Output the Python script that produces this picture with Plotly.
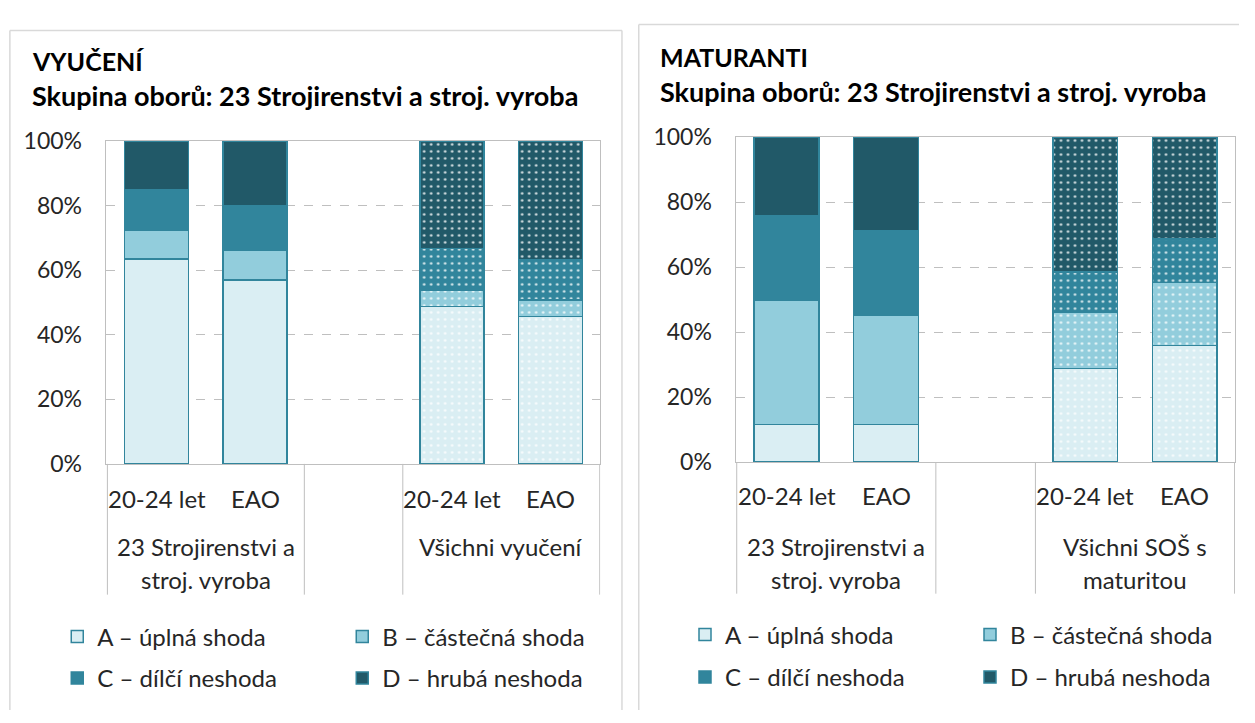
import plotly.graph_objects as go

# ---------------- data ----------------
series_names = ["A – úplná shoda", "B – částečná shoda", "C – dílčí neshoda", "D – hrubá neshoda"]
series_colors = ["#DAEEF3", "#92CDDC", "#31859C", "#215968"]

sub_labels = ["20-24 let", "EAO", "", "20-24 let", "EAO"]
group_ids = ["g1", "g1", "gap", "g2", "g2"]
group_lines_left = {"g1": ["23 Strojirenstvi a", "stroj. vyroba"], "gap": [],
                    "g2": ["Všichni vyučení"]}
group_lines_right = {"g1": ["23 Strojirenstvi a", "stroj. vyroba"], "gap": [],
                     "g2": ["Všichni SOŠ s", "maturitou"]}
patterns = ["", "", "", ".", "."]

# left chart (VYUČENÍ), values in %
left_A = [63.4, 56.9, None, 48.7, 45.7]
left_B = [8.9, 9.4, None, 5.1, 5.1]
left_C = [12.5, 13.7, None, 12.9, 12.4]
left_D = [15.2, 20.0, None, 33.3, 36.8]

# right chart (MATURANTI), values in %
right_A = [11.6, 11.6, None, 28.7, 35.8]
right_B = [38.3, 33.6, None, 17.5, 19.5]
right_C = [25.9, 25.9, None, 12.3, 13.3]
right_D = [24.2, 28.9, None, 41.5, 31.4]

left_vals = [left_A, left_B, left_C, left_D]
right_vals = [right_A, right_B, right_C, right_D]

titles_left = ["VYUČENÍ", "Skupina oborů: 23 Strojirenstvi a stroj. vyroba"]
titles_right = ["MATURANTI", "Skupina oborů: 23 Strojirenstvi a stroj. vyroba"]

# category keys (unique per slot)
cat_keys = [g + "|" + s for g, s in zip(group_ids, sub_labels)]

# ---------------- layout helpers ----------------
W, H = 1255, 723
FONT = "Lato"
TXT = "#262626"
LAB = 23
CAT = 24
TITLE_SIZES = [25, 27]


def px(x):
    return min(max(x / W, 0.0), 1.0)


def py(y):
    return min(max((H - y) / H, 0.0), 1.0)


fig = go.Figure()

panels = [
    dict(vals=left_vals, groups=group_lines_left, xa="x", ya="y", titles=titles_left,
         xdom=(107, 608), ydom=(467, 131), title_x=30, title_y=(48, 84),
         sub_y=503, grp_y=(553, 587), div_bottom=603, leg_x=58, leg_y=(647, 690),
         frame=(10, 630, 16)),
    dict(vals=right_vals, groups=group_lines_right, xa="x2", ya="y2", titles=titles_right,
         xdom=(745, 1251), ydom=(465, 127), title_x=667, title_y=(44, 80),
         sub_y=500, grp_y=(553, 587), div_bottom=602, leg_x=694, leg_y=(645, 689),
         frame=(647, None, 10)),
]

for p_i, P in enumerate(panels):
    for i, (name, col, v) in enumerate(zip(series_names, series_colors, P["vals"])):
        legend_id = ["legend", "legend2", "legend3", "legend4"][p_i * 2 + (i // 2)]
        fig.add_trace(go.Bar(
            x=cat_keys, y=v, name=name,
            xaxis=P["xa"], yaxis=P["ya"],
            legend=legend_id,
            marker=dict(color=col, line=dict(color="#31859C", width=1.5),
                        pattern=dict(shape=patterns, fgcolor="#FFFFFF", fgopacity=0.85,
                                     size=7, solidity=0.1)),
            hovertemplate="%{y:.1f}%<extra>" + name + "</extra>",
        ))

    ax_sfx = "" if p_i == 0 else "2"
    fig.update_layout(**{
        "xaxis" + ax_sfx: dict(domain=[px(P["xdom"][0]), px(P["xdom"][1])], anchor="y" + ax_sfx,
                               type="category", categoryorder="array", categoryarray=cat_keys,
                               showticklabels=False, showline=True, linecolor="#BFBFBF",
                               linewidth=1, mirror=True, ticks="", showgrid=False,
                               fixedrange=True),
        "yaxis" + ax_sfx: dict(domain=[py(P["ydom"][0]), py(P["ydom"][1])], anchor="x" + ax_sfx,
                               range=[0, 100], dtick=20, ticksuffix="%", showgrid=True,
                               gridcolor="#BFBFBF", griddash="dash", gridwidth=1,
                               showline=True, linecolor="#BFBFBF", linewidth=1, mirror=True,
                               tickfont=dict(family=FONT, size=LAB, color=TXT),
                               ticks="", ticklabelstandoff=18, zeroline=False,
                               fixedrange=True),
    })

    xref = "x" + ax_sfx
    # sub-category labels
    for key, lab in zip(cat_keys, sub_labels):
        if lab:
            fig.add_annotation(text=lab, xref=xref, yref="paper", x=key, y=py(P["sub_y"]),
                               xanchor="center", yanchor="middle", showarrow=False,
                               font=dict(family=FONT, size=CAT, color=TXT))
    # group labels and dividers (group boundaries computed from categories)
    start = 0
    for idx in range(1, len(group_ids) + 1):
        if idx == len(group_ids) or group_ids[idx] != group_ids[start]:
            lines = P["groups"][group_ids[start]]
            centre = (start + idx - 1) / 2
            for ln, yy in zip(lines, P["grp_y"]):
                fig.add_annotation(text=ln, xref=xref, yref="paper", x=centre, y=py(yy),
                                   xanchor="center", yanchor="middle", showarrow=False,
                                   font=dict(family=FONT, size=CAT, color=TXT))
            start = idx
    boundaries = [-0.5] + [i - 0.5 for i in range(1, len(group_ids))
                           if group_ids[i] != group_ids[i - 1]] + [len(group_ids) - 0.5]
    for b in boundaries:
        fig.add_shape(type="line", xref=xref, yref="paper", x0=b, x1=b,
                      y0=py(P["ydom"][0]), y1=py(P["div_bottom"]),
                      line=dict(color="#BFBFBF", width=1))

    # chart frame (open at the bottom / right edge of the picture), kept inside the figure
    fl, fr, ft = P["frame"]
    frame_line = dict(color="#D9D9D9", width=1.5)
    right_end = px(fr) if fr is not None else 1.0
    fig.add_shape(type="line", xref="paper", yref="paper", x0=px(fl), x1=right_end,
                  y0=py(ft), y1=py(ft), line=frame_line, layer="below")
    fig.add_shape(type="line", xref="paper", yref="paper", x0=px(fl), x1=px(fl),
                  y0=0, y1=py(ft), line=frame_line, layer="below")
    if fr is not None:
        fig.add_shape(type="line", xref="paper", yref="paper", x0=px(fr), x1=px(fr),
                      y0=0, y1=py(ft), line=frame_line, layer="below")

    # titles
    for txt, yy, fs in zip(P["titles"], P["title_y"], TITLE_SIZES):
        fig.add_annotation(text="<b>" + txt + "</b>", xref="paper", yref="paper",
                           x=px(P["title_x"]), y=py(yy), xanchor="left", yanchor="middle",
                           showarrow=False, font=dict(family=FONT, size=fs, color="#000000"))

leg_common = dict(orientation="h", xanchor="left", yanchor="middle", traceorder="normal",
                  font=dict(family=FONT, size=24, color=TXT),
                  entrywidthmode="pixels", entrywidth=240, bgcolor="rgba(0,0,0,0)",
                  itemclick=False, itemdoubleclick=False)
fig.update_layout(
    width=W, height=H,
    margin=dict(l=0, r=0, t=0, b=0),
    paper_bgcolor="white", plot_bgcolor="white",
    barmode="stack", bargap=0.35,
    font=dict(family=FONT, color=TXT),
    legend=dict(x=px(panels[0]["leg_x"]), y=py(panels[0]["leg_y"][0]), **leg_common),
    legend2=dict(x=px(panels[0]["leg_x"]), y=py(panels[0]["leg_y"][1]), **leg_common),
    legend3=dict(x=px(panels[1]["leg_x"]), y=py(panels[1]["leg_y"][0]), **leg_common),
    legend4=dict(x=px(panels[1]["leg_x"]), y=py(panels[1]["leg_y"][1]), **leg_common),
)

fig.write_html(
    "out.html",
    config={"displayModeBar": False},
    post_script=("document.body.style.margin='0';"
                 "document.documentElement.style.overflow='hidden';"),
)
